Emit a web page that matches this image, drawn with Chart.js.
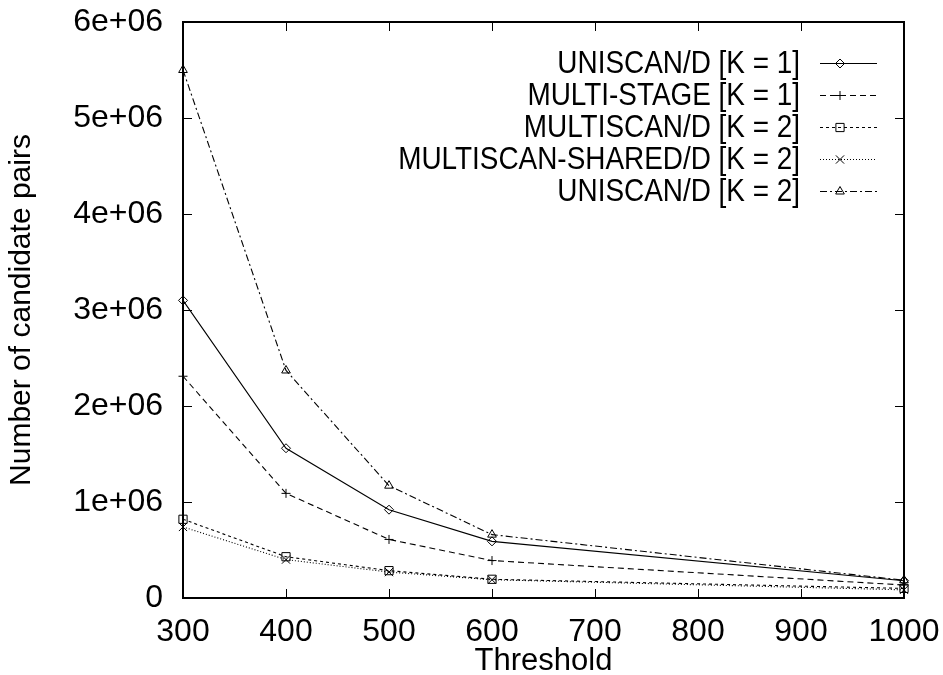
<!DOCTYPE html>
<html>
<head>
<meta charset="utf-8">
<script src="https://cdn.jsdelivr.net/npm/chart.js@4/dist/chart.umd.min.js"></script>
<style>
  html, body { margin: 0; padding: 0; background: #fff; }
  #wrap { width: 943px; height: 675px; }
</style>
</head>
<body>
<div id="wrap"><canvas id="myChart" width="943" height="675"></canvas></div>
<script>
const thresholds = [300, 400, 500, 600, 1000];
const seriesNames = [
  "UNISCAN/D [K = 1]",
  "MULTI-STAGE [K = 1]",
  "MULTISCAN/D [K = 2]",
  "MULTISCAN-SHARED/D [K = 2]",
  "UNISCAN/D [K = 2]"
];
const uniscanK1 = [3100000, 1560000, 920000, 590000, 180000];
const multiStageK1 = [2310000, 1090000, 610000, 390000, 135000];
const multiscanK2 = [820000, 430000, 285000, 195000, 100000];
const sharedK2 = [740000, 400000, 270000, 190000, 85000];
const uniscanK2 = [5500000, 2370000, 1170000, 660000, 185000];
const yTicks = [0, 1000000, 2000000, 3000000, 4000000, 5000000, 6000000];

const FONT = "'Liberation Sans', Arial, Helvetica, sans-serif";

function toPoints(values) {
  return values.map((v, i) => ({ x: thresholds[i], y: v }));
}

const styles = [
  { dash: [], point: "rectRot", radius: 4.5 },
  { dash: [6, 4], point: "cross", radius: 4.5 },
  { dash: [3, 3], point: "rect", radius: 5.8 },
  { dash: [1, 2], point: "crossRot", radius: 5.8 },
  { dash: [7, 3, 2, 3], point: "triangle", radius: 5 }
];
const allValues = [uniscanK1, multiStageK1, multiscanK2, sharedK2, uniscanK2];

const datasets = allValues.map((vals, i) => ({
  label: seriesNames[i],
  data: toPoints(vals),
  borderColor: "#000",
  borderWidth: 1.1,
  borderDash: styles[i].dash,
  pointStyle: styles[i].point,
  pointRadius: styles[i].radius,
  pointBorderColor: "#000",
  pointBackgroundColor: "rgba(0,0,0,0)",
  pointBorderWidth: 1,
  fill: false,
  tension: 0,
  clip: false
}));

// frame with inward ticks on all four sides, gnuplot style
const framePlugin = {
  id: "frame",
  afterDraw(chart) {
    const { ctx, chartArea: a, scales } = chart;
    ctx.save();
    ctx.strokeStyle = "#000";
    ctx.lineWidth = 1;
    ctx.beginPath();
    scales.x.ticks.forEach(t => {
      const px = Math.round(scales.x.getPixelForValue(t.value)) + 0.5;
      ctx.moveTo(px, a.bottom); ctx.lineTo(px, a.bottom - 9);
      ctx.moveTo(px, a.top); ctx.lineTo(px, a.top + 9);
    });
    scales.y.ticks.forEach(t => {
      const py = Math.round(scales.y.getPixelForValue(t.value)) + 0.5;
      ctx.moveTo(a.left, py); ctx.lineTo(a.left + 9, py);
      ctx.moveTo(a.right, py); ctx.lineTo(a.right - 9, py);
    });
    ctx.stroke();
    ctx.lineWidth = 2;
    ctx.strokeRect(a.left, a.top, a.right - a.left, a.bottom - a.top);
    ctx.restore();
  }
};

// legend: text right-aligned (slightly condensed), sample line to the right
const keyPlugin = {
  id: "key",
  afterDatasetsDraw(chart) {
    const ctx = chart.ctx;
    const textRight = 800, x0 = 820, x1 = 877, top = 63, step = 32;
    ctx.save();
    chart.data.datasets.forEach((ds, i) => {
      const y = top + i * step;
      ctx.save();
      ctx.translate(textRight, y + 1);
      ctx.scale(0.9, 1);
      ctx.fillStyle = "#000";
      ctx.font = "31px " + FONT;
      ctx.textAlign = "right";
      ctx.textBaseline = "middle";
      ctx.fillText(ds.label, 0, 0);
      ctx.restore();
      ctx.strokeStyle = "#000";
      ctx.lineWidth = ds.borderWidth;
      ctx.setLineDash(ds.borderDash);
      ctx.beginPath();
      ctx.moveTo(x0, y + 0.5);
      ctx.lineTo(x1, y + 0.5);
      ctx.stroke();
      ctx.setLineDash([]);
      ctx.fillStyle = "rgba(0,0,0,0)";
      ctx.lineWidth = 1;
      Chart.helpers.drawPoint(ctx, {
        pointStyle: ds.pointStyle,
        radius: ds.pointRadius,
        rotation: 0,
        borderWidth: 1
      }, 840, y + 0.5);
    });
    ctx.restore();
  }
};

function noOverhang(scale) {
  scale.paddingTop = 0;
  scale.paddingBottom = 0;
  scale.paddingLeft = 0;
  scale.paddingRight = 0;
}

new Chart("myChart", {
  type: "line",
  data: { datasets: datasets },
  options: {
    responsive: false,
    animation: false,
    layout: { padding: { top: 22, right: 39, left: 0, bottom: 0 } },
    plugins: {
      legend: { display: false },
      tooltip: { enabled: false }
    },
    scales: {
      x: {
        type: "linear",
        min: 300,
        max: 1000,
        ticks: {
          stepSize: 100,
          color: "#000",
          font: { family: FONT, size: 32 },
          padding: 15,
          maxRotation: 0,
          callback: v => String(v)
        },
        grid: { display: false, drawTicks: false },
        border: { display: false },
        title: {
          display: true,
          text: "Threshold",
          color: "#000",
          font: { family: FONT, size: 31, lineHeight: 0.85 },
          padding: { top: 0, bottom: 0 }
        },
        afterFit(scale) { scale.height = 77; noOverhang(scale); }
      },
      y: {
        min: 0,
        max: 6000000,
        afterBuildTicks(scale) {
          scale.ticks = yTicks.map(v => ({ value: v }));
        },
        ticks: {
          color: "#000",
          font: { family: FONT, size: 32 },
          padding: 20,
          callback: v => v === 0 ? "0" : (v / 1000000) + "e+06"
        },
        grid: { display: false, drawTicks: false },
        border: { display: false },
        title: {
          display: true,
          text: "Number of candidate pairs",
          color: "#000",
          font: { family: FONT, size: 30, lineHeight: 1.1 },
          padding: { top: 5, bottom: 0 }
        },
        afterFit(scale) { scale.width = 183; noOverhang(scale); }
      }
    }
  },
  plugins: [framePlugin, keyPlugin]
});
</script>
</body>
</html>
